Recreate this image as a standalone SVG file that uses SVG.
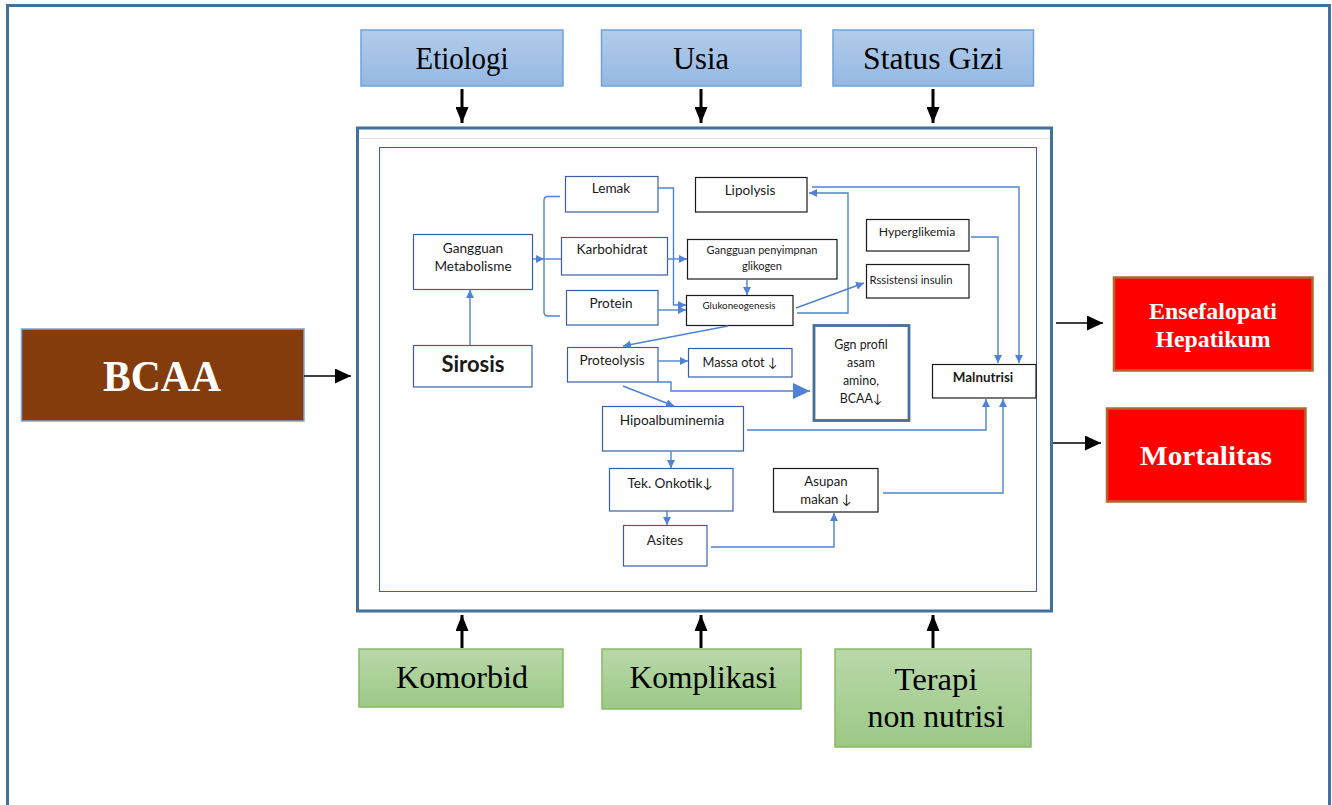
<svg xmlns="http://www.w3.org/2000/svg" width="1332" height="805" viewBox="0 0 1332 805">
<style>
.serif{font-family:"Liberation Serif","Times New Roman",serif;}
.sans{font-family:Lato,"Open Sans","Liberation Sans",sans-serif;fill:#1a1a1a;}
.bn{fill:#fff;stroke:#3a5ea8;stroke-width:1.2;}
.kn{fill:#fff;stroke:#1a1a1a;stroke-width:1.2;}
.cn{fill:none;stroke:#4f81d4;stroke-width:1.4;}
.blk{fill:none;stroke:#000;}
.topbox{fill:url(#gBlue);stroke:#6fa3d8;stroke-width:1.5;}
.botbox{fill:url(#gGreen);stroke:#86ba64;stroke-width:1.5;}
.red{fill:#ff0000;stroke:#b5652f;stroke-width:2.5;}
</style>
<defs>
<linearGradient id="gBlue" x1="0" y1="0" x2="0" y2="1"><stop offset="0" stop-color="#b3cdea"/><stop offset="1" stop-color="#94b7e2"/></linearGradient>
<linearGradient id="gGreen" x1="0" y1="0" x2="0" y2="1"><stop offset="0" stop-color="#b9d8aa"/><stop offset="1" stop-color="#9cc886"/></linearGradient>
<marker id="ab" viewBox="0 0 10 10" refX="10" refY="5" markerWidth="8" markerHeight="8" markerUnits="userSpaceOnUse" orient="auto"><path d="M0,0 L10,5 L0,10 z" fill="#4f81d4"/></marker>
<marker id="abig" viewBox="0 0 10 10" refX="10" refY="5" markerWidth="17" markerHeight="16" markerUnits="userSpaceOnUse" orient="auto" preserveAspectRatio="none"><path d="M0,0 L10,5 L0,10 z" fill="#4f81d4"/></marker>
<marker id="kthick" viewBox="0 0 10 10" refX="10" refY="5" markerWidth="16" markerHeight="13" markerUnits="userSpaceOnUse" orient="auto" preserveAspectRatio="none"><path d="M0,0 L10,5 L0,10 z" fill="#000"/></marker>
<marker id="kthin" viewBox="0 0 10 10" refX="10" refY="5" markerWidth="16" markerHeight="15" markerUnits="userSpaceOnUse" orient="auto" preserveAspectRatio="none"><path d="M0,0 L10,5 L0,10 z" fill="#000"/></marker>
</defs>
<rect x="0" y="0" width="1332" height="805" fill="#fff"/>
<!-- outer frame -->
<rect x="7.5" y="5.5" width="1322" height="900" fill="none" stroke="#41719c" stroke-width="3"/>
<!-- main frame -->
<g id="mainframe">
<rect x="357.5" y="128" width="694" height="483" fill="#fff" stroke="#41719c" stroke-width="3"/>
<line x1="359" y1="138.5" x2="1050" y2="138.5" stroke="#e2e2e2" stroke-width="1"/>
<rect x="379.5" y="147.5" width="657" height="444" fill="none" stroke="#3a5ea8" stroke-width="1"/>
</g>
<!-- outer factor nodes -->
<g id="etiologi"><rect class="topbox" x="361" y="30" width="202" height="56"/><text class="serif" x="462" y="69" font-size="31" text-anchor="middle" textLength="93" lengthAdjust="spacingAndGlyphs">Etiologi</text></g>
<g id="usia"><rect class="topbox" x="601.5" y="30" width="199.5" height="56"/><text class="serif" x="701" y="69" font-size="31" text-anchor="middle" textLength="56" lengthAdjust="spacingAndGlyphs">Usia</text></g>
<g id="statusgizi"><rect class="topbox" x="833" y="30" width="200.5" height="56"/><text class="serif" x="933" y="69" font-size="31" text-anchor="middle" textLength="140" lengthAdjust="spacingAndGlyphs">Status Gizi</text></g>
<g id="komorbid"><rect class="botbox" x="359" y="649" width="204" height="58"/><text class="serif" x="462" y="688" font-size="31" text-anchor="middle" textLength="132" lengthAdjust="spacingAndGlyphs">Komorbid</text></g>
<g id="komplikasi"><rect class="botbox" x="602" y="649" width="199" height="60"/><text class="serif" x="703" y="688" font-size="31" text-anchor="middle" textLength="147" lengthAdjust="spacingAndGlyphs">Komplikasi</text></g>
<g id="terapi"><rect class="botbox" x="835" y="649" width="196" height="98"/><text class="serif" x="936" y="690" font-size="31" text-anchor="middle" textLength="83" lengthAdjust="spacingAndGlyphs">Terapi</text><text class="serif" x="936" y="727" font-size="31" text-anchor="middle" textLength="137" lengthAdjust="spacingAndGlyphs">non nutrisi</text></g>
<g id="bcaa"><rect x="21.5" y="329" width="282.5" height="92" fill="#843c0c" stroke="#7aa7d8" stroke-width="1.5"/><text class="serif" x="162" y="391" font-size="44" font-weight="bold" fill="#fff" text-anchor="middle" textLength="118" lengthAdjust="spacingAndGlyphs">BCAA</text></g>
<g id="ensefalopati"><rect class="red" x="1114" y="277.5" width="198.5" height="93"/><text class="serif" x="1213" y="319" font-size="23" font-weight="bold" fill="#fff" text-anchor="middle" textLength="128" lengthAdjust="spacingAndGlyphs">Ensefalopati</text><text class="serif" x="1213" y="347" font-size="23" font-weight="bold" fill="#fff" text-anchor="middle" textLength="115" lengthAdjust="spacingAndGlyphs">Hepatikum</text></g>
<g id="mortalitas"><rect class="red" x="1107" y="408.5" width="198.5" height="93"/><text class="serif" x="1206" y="465" font-size="28" font-weight="bold" fill="#fff" text-anchor="middle" textLength="132" lengthAdjust="spacingAndGlyphs">Mortalitas</text></g>
<!-- inner nodes -->
<g id="gangguan-metabolisme"><rect class="bn" x="413.5" y="234.5" width="119" height="55"/><text class="sans" x="473" y="253" font-size="13.6" text-anchor="middle">Gangguan</text><text class="sans" x="473" y="271" font-size="13.6" text-anchor="middle">Metabolisme</text></g>
<g id="sirosis"><rect class="bn" x="413.5" y="345.5" width="118.5" height="41.5"/><text class="sans" x="473" y="372" font-size="22" font-weight="bold" text-anchor="middle">Sirosis</text></g>
<g id="lemak"><rect class="bn" x="565.5" y="176.5" width="92.5" height="35.5"/><text class="sans" x="611" y="193" font-size="13.6" text-anchor="middle">Lemak</text></g>
<g id="karbohidrat"><rect class="bn" x="561.5" y="237.5" width="106" height="37.5"/><text class="sans" x="612" y="254" font-size="13.6" text-anchor="middle">Karbohidrat</text></g>
<g id="protein"><rect class="bn" x="566.5" y="290.5" width="91.5" height="34.5"/><text class="sans" x="611" y="308" font-size="13.6" text-anchor="middle">Protein</text></g>
<g id="proteolysis"><rect class="bn" x="567.5" y="347.5" width="90.5" height="34.5"/><text class="sans" x="612" y="365" font-size="13.6" text-anchor="middle">Proteolysis</text></g>
<g id="lipolysis"><rect class="kn" x="695.5" y="177.5" width="111.5" height="34.5"/><text class="sans" x="750" y="195" font-size="13.6" text-anchor="middle">Lipolysis</text></g>
<g id="gangguan-glikogen"><rect class="kn" x="687.5" y="239.5" width="149.5" height="39.5"/><text class="sans" x="762" y="254" font-size="11" text-anchor="middle">Gangguan penyimpnan</text><text class="sans" x="762" y="270" font-size="11" text-anchor="middle">glikogen</text></g>
<g id="glukoneogenesis"><rect class="kn" x="686.5" y="295.5" width="106.5" height="30"/><text class="sans" x="739" y="309" font-size="9.8" text-anchor="middle">Glukoneogenesis</text></g>
<g id="hyperglikemia"><rect class="kn" x="866.5" y="219.5" width="102.5" height="31.5"/><text class="sans" x="917" y="236" font-size="12.2" text-anchor="middle">Hyperglikemia</text></g>
<g id="resistensi"><rect class="kn" x="866.5" y="264.5" width="102.5" height="33.5"/><text class="sans" x="911" y="284" font-size="11.3" text-anchor="middle">Rssistensi insulin</text></g>
<g id="ggn-profil"><rect x="814" y="325.5" width="95" height="95" fill="#fff" stroke="#41719c" stroke-width="2.8"/><text class="sans" x="861" y="349" font-size="12.4" text-anchor="middle">Ggn profil</text><text class="sans" x="861" y="367" font-size="12.4" text-anchor="middle">asam</text><text class="sans" x="861" y="385" font-size="12.4" text-anchor="middle">amino,</text><text class="sans" x="861" y="403" font-size="12.4" text-anchor="middle">BCAA↓</text></g>
<g id="massa-otot"><rect class="bn" x="688.5" y="348.5" width="103.5" height="28.5"/><text class="sans" x="740" y="367" font-size="12.8" text-anchor="middle">Massa otot ↓</text></g>
<g id="malnutrisi"><rect class="kn" x="932.5" y="364.5" width="103.5" height="33.5"/><text class="sans" x="983" y="382" font-size="13.4" font-weight="bold" text-anchor="middle">Malnutrisi</text></g>
<g id="hipoalbuminemia"><rect class="bn" x="602.5" y="406.5" width="141" height="44.5"/><text class="sans" x="672" y="425" font-size="13.6" text-anchor="middle">Hipoalbuminemia</text></g>
<g id="tek-onkotik"><rect class="bn" x="609.5" y="468.5" width="123.5" height="42.5"/><text class="sans" x="670" y="488" font-size="13.6" text-anchor="middle">Tek. Onkotik↓</text></g>
<g id="asites"><rect class="bn" x="623.5" y="525.5" width="83.5" height="40.5"/><text class="sans" x="665" y="545" font-size="13.6" text-anchor="middle">Asites</text></g>
<g id="asupan"><rect class="kn" x="773.5" y="468.5" width="104.5" height="43.5"/><text class="sans" x="826" y="486" font-size="13.2" text-anchor="middle">Asupan</text><text class="sans" x="826" y="504" font-size="13.2" text-anchor="middle">makan ↓</text></g>
<!-- connectors -->
<g id="connectors">
<line class="blk" x1="462" y1="89" x2="462" y2="123" stroke-width="3" marker-end="url(#kthick)"/>
<line class="blk" x1="701" y1="89" x2="701" y2="123" stroke-width="3" marker-end="url(#kthick)"/>
<line class="blk" x1="933" y1="89" x2="933" y2="123" stroke-width="3" marker-end="url(#kthick)"/>
<line class="blk" x1="462" y1="648" x2="462" y2="615" stroke-width="3" marker-end="url(#kthick)"/>
<line class="blk" x1="701" y1="648" x2="701" y2="615" stroke-width="3" marker-end="url(#kthick)"/>
<line class="blk" x1="933" y1="648" x2="933" y2="615" stroke-width="3" marker-end="url(#kthick)"/>
<line class="blk" x1="304" y1="376" x2="351" y2="376" stroke-width="1.5" marker-end="url(#kthin)"/>
<line class="blk" x1="1056" y1="323" x2="1103" y2="323" stroke-width="1.5" marker-end="url(#kthin)"/>
<line class="blk" x1="1053" y1="443" x2="1101" y2="443" stroke-width="1.5" marker-end="url(#kthin)"/>
<path class="cn" d="M470,345 V290" marker-end="url(#ab)"/>
<path class="cn" d="M533,259 H544" marker-end="url(#ab)"/>
<path class="cn" d="M544,259 H561"/>
<path class="cn" d="M560,196.5 H548 Q544,196.5 544,200.5 V312 Q544,316 548,316 H560"/>
<path class="cn" d="M658,188 H673.5 V305 H686" marker-end="url(#ab)"/>
<path class="cn" d="M667,259 H687" marker-end="url(#ab)"/>
<path class="cn" d="M658,310 H686" marker-end="url(#ab)"/>
<path class="cn" d="M747,279 V295" marker-end="url(#ab)"/>
<path class="cn" d="M796,308 L864,283" marker-end="url(#ab)"/>
<path class="cn" d="M797,313 H848 V193 H809" marker-end="url(#ab)"/>
<path class="cn" d="M812,187 H1019 V363" marker-end="url(#ab)"/>
<path class="cn" d="M971,237 H998 V363" marker-end="url(#ab)"/>
<path class="cn" d="M728,326 L623,346" marker-end="url(#ab)"/>
<path class="cn" d="M658,361 H688" marker-end="url(#ab)"/>
<path class="cn" d="M658,382 H671 V391 H810" marker-end="url(#abig)"/>
<path class="cn" d="M623,386 L674,406" marker-end="url(#ab)"/>
<path class="cn" d="M747,430 H986 V399" marker-end="url(#ab)"/>
<path class="cn" d="M883,493 H1003 V399" marker-end="url(#ab)"/>
<path class="cn" d="M671,451 V468" marker-end="url(#ab)"/>
<path class="cn" d="M667,511 V525" marker-end="url(#ab)"/>
<path class="cn" d="M711,547 H834 V513" marker-end="url(#ab)"/>
</g>
</svg>
